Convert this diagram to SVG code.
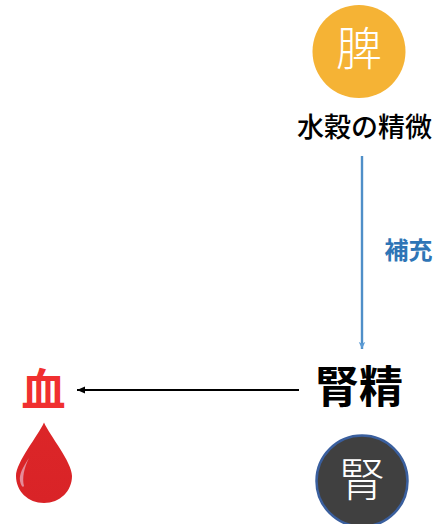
<svg xmlns="http://www.w3.org/2000/svg" width="441" height="524" viewBox="0 0 441 524">
<style>
text{font-family:"Noto Sans CJK JP","Noto Sans CJK SC",sans-serif;text-anchor:middle}
.w{fill:#fff;font-size:46px;font-weight:300}
.b{fill:#000;font-weight:500}
</style>
<defs>
<marker id="ab" markerWidth="8" markerHeight="8" refX="7" refY="4" orient="auto" markerUnits="userSpaceOnUse"><path d="M0 0.800L7 4L0 7.200L1.500 4Z" fill="#5b9bd5"/></marker>
<marker id="ak" markerWidth="9" markerHeight="9" refX="8" refY="4.500" orient="auto" markerUnits="userSpaceOnUse"><path d="M0 4.500L8 1V8Z" fill="#000" transform="rotate(180 4 4.500)"/></marker>
<linearGradient id="dg" x1="0" y1="0" x2="0" y2="1"><stop offset="0" stop-color="#dc2628"/><stop offset="1" stop-color="#d92327"/></linearGradient>
</defs>
<g id="connectors">
<line x1="362" y1="156" x2="362" y2="349" stroke="#4f8fc8" stroke-width="2.400" marker-end="url(#ab)"/>
<line x1="299" y1="390" x2="77" y2="390" stroke="#000" stroke-width="2.200" marker-end="url(#ak)"/>
</g>
<g id="spleen">
<circle cx="359" cy="51.500" r="46.500" fill="#f5b335"/>
<text class="w" x="359" y="65">脾</text>
</g>
<g id="nutrient"><text class="b" x="364.500" y="137" font-size="27">水穀の精微</text></g>
<g id="supplement"><text x="408.500" y="259" font-size="24" fill="#2e75b6" font-weight="700">補充</text></g>
<g id="kidney-essence"><text class="b" x="359" y="403" font-size="44" font-weight="700" style="font-weight:700">腎精</text></g>
<g id="kidney">
<circle cx="362" cy="481" r="45.500" fill="#404040" stroke="#3a5f9e" stroke-width="2.500"/>
<text class="w" x="362" y="496">腎</text>
</g>
<g id="blood">
<text x="43.500" y="406" font-size="44" font-weight="700" fill="#f03030">血</text>
<path d="M44 422.500C38 436 16 462 16 476C16 491 28 503 44 503C60 503 72 491 72 476C72 462 50 436 44 422.500Z" fill="url(#dg)"/>
<path d="M29 458C23 467 19 474 20 481C21 486 23 488 24 486C22 478 24 468 29 458Z" fill="#e58b98"/>
</g>
</svg>
